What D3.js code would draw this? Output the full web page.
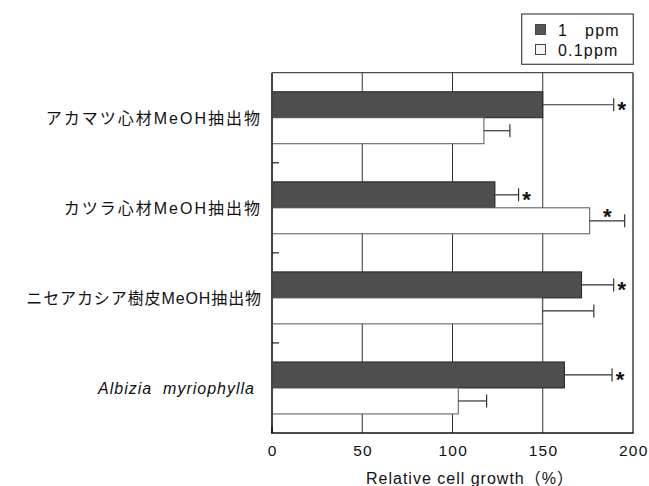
<!DOCTYPE html>
<html>
<head>
<meta charset="utf-8">
<script src="https://cdn.jsdelivr.net/npm/d3@7"></script>
<style>
  body { margin: 0; background: #fff; }
  svg text { font-family: "Liberation Sans", Arial, "Noto Sans CJK JP", sans-serif; fill: #111; }
</style>
</head>
<body>
<div id="chart"></div>
<script>
// categories (top to bottom)
const categories = ['アカマツ心材MeOH抽出物', 'カツラ心材MeOH抽出物', 'ニセアカシア樹皮MeOH抽出物', 'Albizia  myriophylla'];
const series = ['1   ppm', '0.1ppm'];

// mean values and upper error ends
const values1ppm = [150, 123.5, 171.5, 162];
const errors1ppm = [189.3, 136.6, 189.3, 188.4];
const values01ppm = [117.4, 176, 149.8, 103.2];
const errors01ppm = [131.8, 195.4, 178.3, 118.9];
const sig1ppm = [true, true, true, true];
const sig01ppm = [false, true, false, false];

const xTicks = [0, 50, 100, 150, 200];

const width = 649;
const height = 486;
const margin = { top: 72.7, right: 16, bottom: 53, left: 272 };

const rows = [];
categories.forEach((c, i) => {
    rows.push({ cat: c, s: series[0], value: values1ppm[i], err: errors1ppm[i], sig: sig1ppm[i] });
    rows.push({ cat: c, s: series[1], value: values01ppm[i], err: errors01ppm[i], sig: sig01ppm[i] });
});

const svg = d3.select('#chart')
    .append('svg')
    .attr('width', width)
    .attr('height', height);

const x = d3.scaleLinear()
    .domain([0, 200])
    .range([margin.left, width - margin.right]);

const y = d3.scaleBand()
    .domain(categories)
    .range([margin.top, height - margin.bottom])
    .paddingInner(0.423)
    .paddingOuter(0.2115);

const ySub = d3.scaleBand()
    .domain(series)
    .range([0, y.bandwidth()]);

const color = d3.scaleOrdinal().domain(series).range(['#4e4e4e', '#ffffff']);
const stroke = d3.scaleOrdinal().domain(series).range(['#222', '#555']);

const plotTop = margin.top, plotBottom = height - margin.bottom;

// gridlines (behind bars)
svg.append('g')
    .selectAll('line')
    .data(xTicks.slice(1, -1))
    .join('line')
    .attr('x1', d => x(d)).attr('x2', d => x(d))
    .attr('y1', plotTop).attr('y2', plotBottom)
    .attr('stroke', '#333')
    .attr('stroke-width', 1);

// frame top/right
svg.append('line')
    .attr('x1', x(0)).attr('x2', x(200))
    .attr('y1', plotTop).attr('y2', plotTop)
    .attr('stroke', '#222');
svg.append('line')
    .attr('x1', x(200)).attr('x2', x(200))
    .attr('y1', plotTop).attr('y2', plotBottom)
    .attr('stroke', '#111').attr('stroke-width', 1.2);

// bars
svg.append('g')
    .selectAll('rect')
    .data(rows)
    .join('rect')
    .attr('x', x(0))
    .attr('y', d => y(d.cat) + ySub(d.s))
    .attr('width', d => x(d.value) - x(0))
    .attr('height', ySub.bandwidth())
    .attr('fill', d => color(d.s))
    .attr('stroke', d => stroke(d.s))
    .attr('stroke-width', 1);

// error bars (upper side only)
const eb = svg.append('g').attr('stroke', '#333').attr('stroke-width', 1.2);
rows.forEach(d => {
    const cy = y(d.cat) + ySub(d.s) + ySub.bandwidth() / 2;
    eb.append('line')
        .attr('x1', x(d.value)).attr('x2', x(d.err))
        .attr('y1', cy).attr('y2', cy);
    eb.append('line')
        .attr('x1', x(d.err)).attr('x2', x(d.err))
        .attr('y1', cy - 6.5).attr('y2', cy + 6.5);
});

// significance stars
rows.filter(d => d.sig).forEach(d => {
    const cy = y(d.cat) + ySub(d.s) + ySub.bandwidth() / 2;
    let sx, sy;
    if (d.err > 192) {
        // no room on the right: sit above the error line
        sx = (x(d.value) + x(d.err)) / 2;
        sy = cy - 8;
    } else {
        sx = x(d.err) + 8;
        sy = cy + 1;
    }
    svg.append('text')
        .attr('x', sx)
        .attr('y', sy + 11)
        .attr('text-anchor', 'middle')
        .style('font-size', '22px')
        .style('font-weight', 'bold')
        .text('*');
});

// left axis with inward ticks between groups
svg.append('line')
    .attr('x1', x(0)).attr('x2', x(0))
    .attr('y1', plotTop).attr('y2', plotBottom)
    .attr('stroke', '#444').attr('stroke-width', 2);
const boundaries = categories.slice(1).map(c => y(c) - y.step() * y.paddingInner() / 2);
svg.append('g')
    .selectAll('line')
    .data(boundaries)
    .join('line')
    .attr('x1', x(0)).attr('x2', x(0) + 7)
    .attr('y1', d => d).attr('y2', d => d)
    .attr('stroke', '#222').attr('stroke-width', 1.2);

// bottom axis
svg.append('line')
    .attr('x1', x(0) - 1).attr('x2', x(200) + 0.6)
    .attr('y1', plotBottom).attr('y2', plotBottom)
    .attr('stroke', '#111').attr('stroke-width', 1.5);
svg.append('line')
    .attr('x1', x(0)).attr('x2', x(0))
    .attr('y1', plotBottom - 6).attr('y2', plotBottom)
    .attr('stroke', '#111').attr('stroke-width', 1.5);

svg.append('g')
    .selectAll('text')
    .data(xTicks)
    .join('text')
    .attr('x', d => x(d) + 0.8)
    .attr('y', 456)
    .attr('text-anchor', 'middle')
    .style('font-size', '15.5px')
    .style('letter-spacing', '1.3px')
    .text(d => d);

svg.append('text')
    .attr('x', 470)
    .attr('y', 484)
    .attr('text-anchor', 'middle')
    .style('font-size', '16px')
    .style('letter-spacing', '1px')
    .text('Relative cell growth（%）');

// category labels
const labelSpacing = ['2px', '2px', '0.9px', '1px'];
svg.append('g')
    .selectAll('text')
    .data(categories)
    .join('text')
    .attr('x', (d, i) => i === 3 ? 255 : 262)
    .attr('y', d => y(d) + y.bandwidth() / 2 + 6)
    .attr('text-anchor', 'end')
    .style('font-size', '16px')
    .style('letter-spacing', (d, i) => labelSpacing[i])
    .style('font-style', (d, i) => i === 3 ? 'italic' : 'normal')
    .style('white-space', 'pre')
    .text(d => d);

// legend
const lg = svg.append('g');
lg.append('rect')
    .attr('x', 521.7).attr('y', 14)
    .attr('width', 111.6).attr('height', 50.3)
    .attr('fill', '#fff').attr('stroke', '#444').attr('stroke-width', 1.2);
series.forEach((s, i) => {
    const cy = 30 + i * 20;
    lg.append('rect')
        .attr('x', 535.5).attr('y', cy - 5.5)
        .attr('width', 10).attr('height', 10)
        .attr('fill', i === 0 ? '#555' : '#f4f4f4')
        .attr('stroke', '#444').attr('stroke-width', 1);
    lg.append('text')
        .attr('x', 558).attr('y', cy + 5.5)
        .style('font-size', '16px')
        .style('letter-spacing', '1.2px')
        .style('white-space', 'pre')
        .text(s);
});
</script>
</body>
</html>
